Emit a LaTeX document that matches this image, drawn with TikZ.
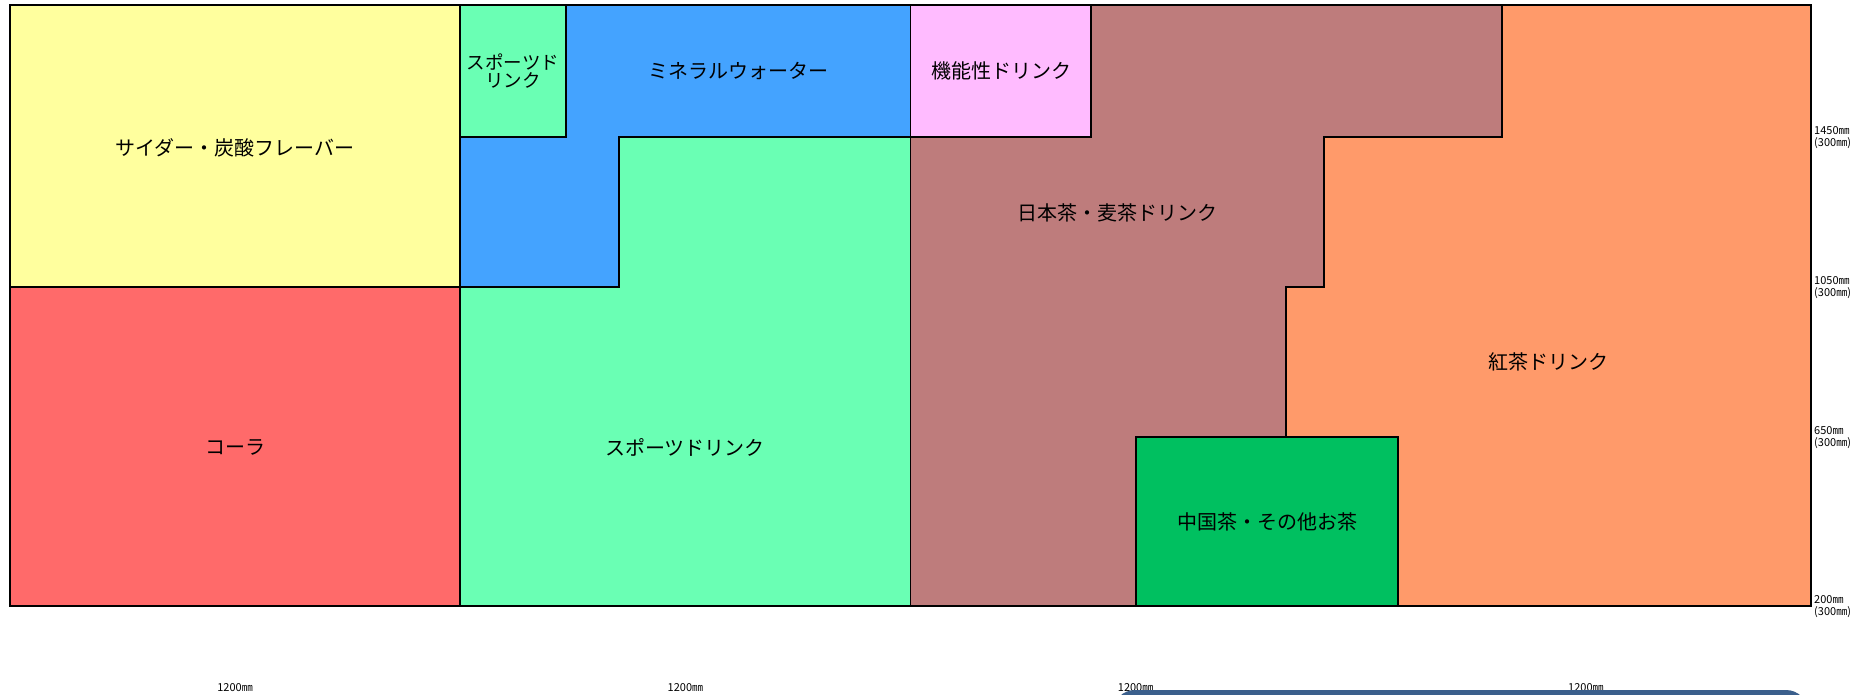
\documentclass[tikz,border=0pt]{standalone}
\usepackage{fontspec}
\newfontfamily\jp{Noto Sans CJK JP}
\definecolor{cyellow}{HTML}{FFFF9E}
\definecolor{cred}{HTML}{FF6A6A}
\definecolor{cmint}{HTML}{6AFFB4}
\definecolor{cblue}{HTML}{44A3FF}
\definecolor{cpink}{HTML}{FFBBFF}
\definecolor{cbrown}{HTML}{BE7C7C}
\definecolor{corange}{HTML}{FF9A6A}
\definecolor{cgreen}{HTML}{00C060}
\definecolor{cnavy}{HTML}{3B5F8C}
\tikzset{
  region/.style={draw=black, line width=1.6pt, line join=miter},
  lbl/.style={font=\jp\fontsize{20}{22}\selectfont, text=black, inner sep=0pt},
  dim/.style={font=\jp\fontsize{11}{12}\selectfont, text=black, inner sep=0pt, align=left, anchor=west},
  bdim/.style={font=\jp\fontsize{11}{12}\selectfont, text=black, inner sep=0pt}
}
\begin{document}
\begin{tikzpicture}[x=1pt,y=-1pt]
\useasboundingbox (0,0) rectangle (1864,694);
\fill[white] (0,0) rectangle (1864,694);
% column 1
\path[region, fill=cyellow] (10,5) rectangle (460.25,287);
\path[region, fill=cred] (10,287) rectangle (460.25,606);
% column 2
\path[region, fill=cmint] (460.25,5) rectangle (566,137);
\path[region, fill=cblue] (460.25,137) -- (566,137) -- (566,5) -- (910.5,5) -- (910.5,137) -- (619,137) -- (619,287) -- (460.25,287) -- cycle;
\path[region, fill=cmint] (460.25,287) -- (619,287) -- (619,137) -- (910.5,137) -- (910.5,606) -- (460.25,606) -- cycle;
% column 3-4
\path[region, fill=cpink] (910.5,5) rectangle (1091,137);
\path[region, fill=cbrown] (910.5,137) -- (1091,137) -- (1091,5) -- (1502,5) -- (1502,137) -- (1324,137) -- (1324,287) -- (1286,287) -- (1286,437) -- (1136,437) -- (1136,606) -- (910.5,606) -- cycle;
\path[region, fill=corange] (1502,5) -- (1811,5) -- (1811,606) -- (1398,606) -- (1398,437) -- (1286,437) -- (1286,287) -- (1324,287) -- (1324,137) -- (1502,137) -- cycle;
\path[region, fill=cgreen] (1136,437) rectangle (1398,606);
% outer frame
\draw[line width=1.6pt] (10,5) rectangle (1811,606);
% labels
\node[lbl] (cider) at (235,148) {サイダー・炭酸フレーバー};
\node[lbl] (cola) at (235,447) {コーラ};
\node[lbl, font=\jp\fontsize{18.5}{18}\selectfont, align=center] (sports1) at (513,71) {スポーツド\\リンク};
\node[lbl] (mineral) at (738,71) {ミネラルウォーター};
\node[lbl] (sports2) at (685,447) {スポーツドリンク};
\node[lbl] (func) at (1001,71) {機能性ドリンク};
\node[lbl] (jptea) at (1117,213) {日本茶・麦茶ドリンク};
\node[lbl] (blacktea) at (1548,362) {紅茶ドリンク};
\node[lbl] (cntea) at (1267,522) {中国茶・その他お茶};
% right dimensions
\node[dim] (d1450) at (1814,138) {1450㎜\\(300㎜)};
\node[dim] (d1050) at (1814,288) {1050㎜\\(300㎜)};
\node[dim] (d650) at (1814,438) {650㎜\\(300㎜)};
\node[dim] (d200) at (1814,607) {200㎜\\(300㎜)};
% bottom dimensions
\node[bdim] (w1) at (235.1,688) {1200㎜};
\node[bdim] (w2) at (685.4,688) {1200㎜};
\node[bdim] (w3) at (1135.6,688) {1200㎜};
\node[bdim] (w4) at (1585.9,688) {1200㎜};
% partially visible navy panel
\begin{scope}
\clip (0,0) rectangle (1864,694);
\fill[cnavy, rounded corners=22pt] (1113,690) rectangle (1808,760);
\end{scope}
\end{tikzpicture}
\end{document}
